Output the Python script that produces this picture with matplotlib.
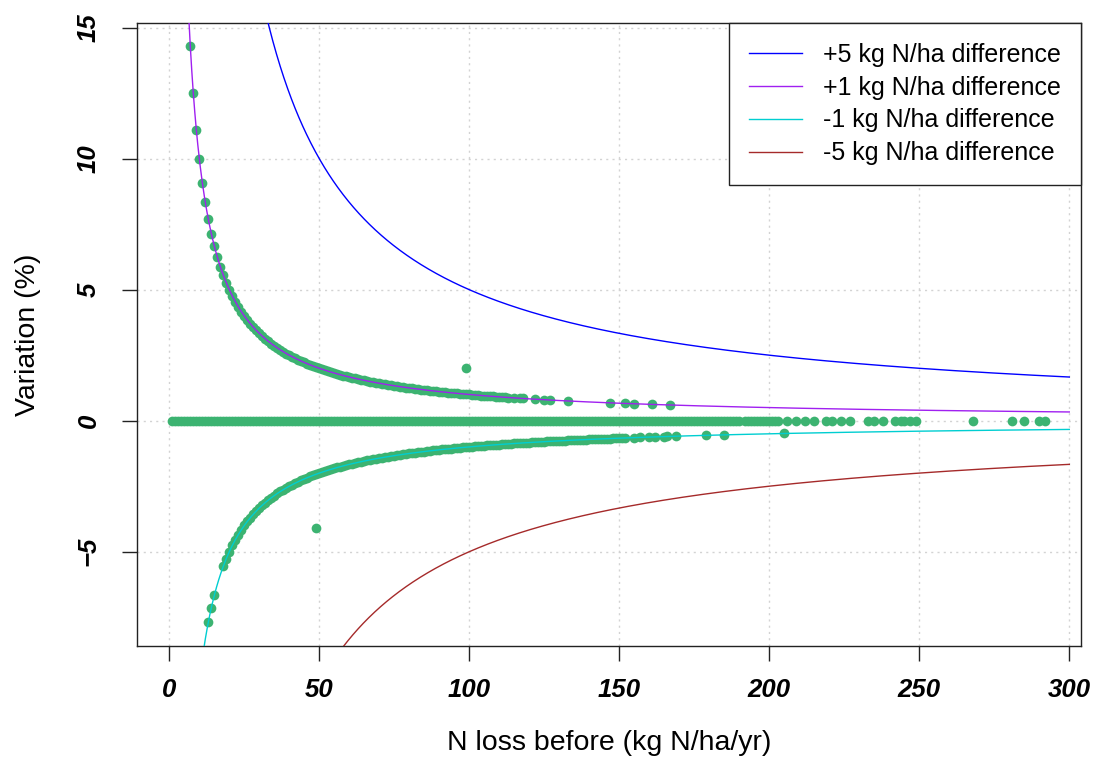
import numpy as np
import matplotlib
matplotlib.use('Agg')
import matplotlib.pyplot as plt

# N loss before (kg N/ha/yr) of the plotted points, grouped by their difference (kg N/ha)
before_plus1 = list(range(7, 114)) + [115, 117, 118, 122, 125, 127, 133, 147, 152, 155, 161, 167]
before_zero = list(range(1, 191)) + list(range(192, 204)) + [206, 209, 212, 215, 219, 221, 224, 227, 233, 235,
                                                             238, 242, 244, 245, 247, 249, 268, 281, 285, 290, 292]
before_minus1 = [13, 14, 15] + list(range(18, 153)) + [155, 157, 160, 162, 165, 166, 169, 179, 185, 205]
before_other = [99, 49]
diff_other = [2, -2]

# reference curves
curve_diffs = [5, 1, -1, -5]
curve_labels = ['+5 kg N/ha difference', '+1 kg N/ha difference',
                '-1 kg N/ha difference', '-5 kg N/ha difference']
curve_colors = ['#0000FF', '#A020F0', '#00CED1', '#A52A2A']

x_ticks = [0, 50, 100, 150, 200, 250, 300]
y_ticks = [-5, 0, 5, 10, 15]

plt.rcParams['font.family'] = ['Liberation Sans', 'DejaVu Sans']

fig = plt.figure(figsize=(11, 7.76), dpi=100)
ax = fig.add_axes([137 / 1100, 1 - 646 / 776, (1081 - 137) / 1100, (646 - 23) / 776])

# points: variation (%) = difference / before * 100
pts_x = np.array(before_plus1 + before_zero + before_minus1 + before_other, dtype=float)
pts_d = np.array([1] * len(before_plus1) + [0] * len(before_zero) + [-1] * len(before_minus1) + diff_other,
                 dtype=float)
ax.plot(pts_x, pts_d / pts_x * 100, 'o', color='#3CB371', markersize=7, markeredgewidth=0, zorder=2)

xs = np.linspace(0.5, 300, 1200)
for d, lab, col in zip(curve_diffs, curve_labels, curve_colors):
    ax.plot(xs, d / xs * 100, '-', color=col, linewidth=1.0, label=lab, zorder=3)

ax.set_xlim(-10.77, 303.9)
ax.set_ylim(-8.6, 15.18)
ax.set_xticks(x_ticks)
ax.set_yticks(y_ticks)
ax.grid(True, color='#D3D3D3', linestyle=(0, (1.5, 3)), linewidth=1.0, zorder=0)
ax.set_axisbelow(True)
for sp in ax.spines.values():
    sp.set_linewidth(1.0)
    sp.set_color('#222222')

ax.tick_params(axis='both', direction='out', length=11, width=1.0, color='#222222')
ax.tick_params(axis='x', pad=12)
ax.tick_params(axis='y', pad=15)
for t in ax.get_xticklabels():
    t.set_fontsize(18.5)
    t.set_fontweight('bold')
    t.set_fontstyle('italic')
for t in ax.get_yticklabels():
    t.set_fontsize(18.5)
    t.set_fontweight('bold')
    t.set_fontstyle('italic')
    t.set_rotation(90)
    t.set_verticalalignment('center')

ax.set_xlabel('N loss before (kg N/ha/yr)', fontsize=20.5, labelpad=20)
ax.set_ylabel('Variation (%)', fontsize=20.5, labelpad=26)

leg = ax.legend(loc='upper right', borderaxespad=0, fancybox=False, fontsize=18,
                handlelength=2.1, handletextpad=0.85, labelspacing=0.35, borderpad=0.8, framealpha=1)
leg.get_frame().set_edgecolor('#222222')
leg.get_frame().set_linewidth(1.0)

plt.savefig('out.png', dpi=100)
plt.close()
